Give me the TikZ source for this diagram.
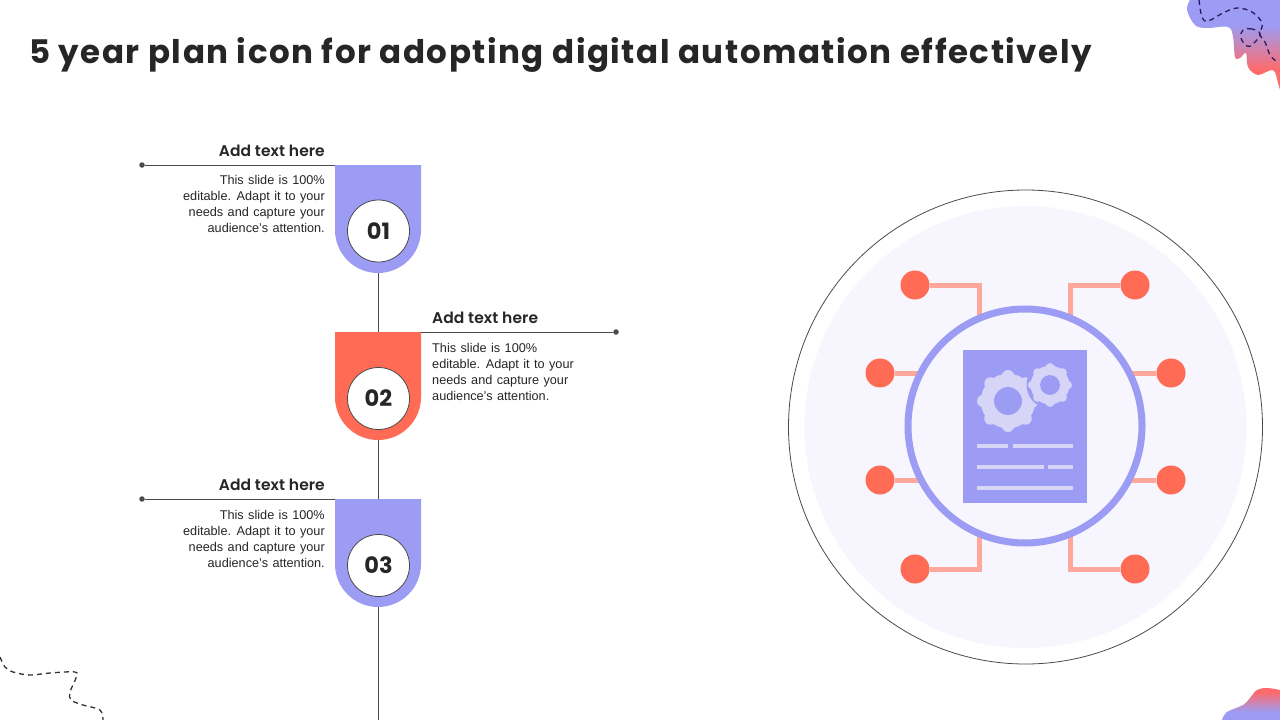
\documentclass[tikz,border=0pt]{standalone}
\usepackage{fontspec}
\setmainfont{Liberation Sans}[WordSpace=1.25]
\newfontfamily\headfont{Poppins}[LetterSpace=4.72]
\newfontfamily\subfont{Poppins}[BoldFont={Poppins SemiBold},LetterSpace=0.5]
\newfontfamily\numfont{Poppins}
\usetikzlibrary{calc}
\definecolor{bluev}{HTML}{9C9CF4}
\definecolor{redv}{HTML}{FF6B55}
\definecolor{blobr}{HTML}{FF6B6B}
\definecolor{linkc}{HTML}{FFA79B}
\definecolor{paleb}{HTML}{F7F6FE}
\definecolor{gearc}{HTML}{D6D5F8}
\definecolor{inkc}{HTML}{262626}
\definecolor{ruled}{HTML}{4A4A4A}
\definecolor{dashp}{HTML}{2A1A5E}
\tikzset{
 badge/.style={fill=#1,draw=none},
 numc/.style={circle,draw=ruled,line width=.8pt,fill=white,minimum size=62pt,inner sep=0pt,font=\numfont\bfseries\fontsize{22.5}{23}\selectfont,text=inkc},
 rule/.style={draw=ruled,line width=1pt},
 pin/.style={circle,fill=ruled,minimum size=5.5pt,inner sep=0pt},
 headt/.style={font=\subfont\fontsize{15.5}{16}\selectfont\bfseries,text=inkc,inner sep=0pt},
 bodyt/.style={font=\fontsize{12.7}{16}\selectfont,text=inkc,inner sep=0pt},
 reddot/.style={circle,fill=redv,minimum size=29pt,inner sep=0pt},
 linkl/.style={draw=linkc,line width=5pt},
 doodle/.style={line width=1.3pt,dash pattern=on 5pt off 4pt},
 docl/.style={draw=gearc,line width=4pt},
}
\newcommand{\gearshape}[3]{%
 \fill[gearc] (#1,#2) circle[radius=#3*0.88];
 \foreach \a in {0,45,...,315}{\fill[gearc] ($(#1,#2)+(\a:#3*0.8)$) circle[radius=#3*0.2];}
 \fill[bluev] (#1,#2) circle[radius=#3*0.45];
}
\begin{document}
\begin{tikzpicture}[x=1pt,y=-1pt]
\useasboundingbox (0,0) rectangle (1280,720);
\fill[white] (0,0) rectangle (1280,720);
% top-right blob
\begin{scope}
\clip plot[smooth,tension=.6] coordinates {(1190,0)(1187,10)(1195,25)(1207,28)(1228,27)(1233,37)(1235,57)(1240,58)(1246,53)(1248,67)(1258,75)(1273,70)(1278,83)(1280,90)} -- (1280,0) -- cycle;
\fill[bluev] (1180,-1) rectangle (1281,26);
\shade[top color=bluev,bottom color=blobr] (1180,25) rectangle (1281,70);
\fill[blobr] (1180,69.5) rectangle (1281,91);
\end{scope}
\draw[doodle,dashp] plot[smooth,tension=.6] coordinates {(1199,0)(1202,17)(1208,21)(1223,13)(1237,8)(1252,12)(1262,23)(1260,35)(1265,42)(1270,55)(1276,61)};
\draw[doodle,dashp] plot[smooth cycle,tension=.7] coordinates {(1260,34)(1252,29)(1243,30)(1241,38)(1247,46)(1253,44)};
% bottom-left doodle
\draw[doodle,black!80] plot[smooth,tension=.55] coordinates {(0,657)(5,667)(13,672)(30,675)(50,673)(75,672)(76,678)(70,692)(71,700)(83,705)(100,710)(103,720)};
% bottom-right blob
\begin{scope}
\clip plot[smooth,tension=.6] coordinates {(1222,720)(1227,712)(1243,705)(1250,698)(1257,690)(1267,688)(1280,690)} -- (1280,720) -- cycle;
\shade[top color=blobr,bottom color=bluev] (1215,692) rectangle (1281,712);
\fill[blobr] (1215,686) rectangle (1281,692.5);
\fill[bluev] (1215,711.5) rectangle (1281,721);
\end{scope}
% title
\node[anchor=base west,inner sep=0pt,font=\headfont\bfseries\fontsize{32.5}{32.5}\selectfont,text=inkc] (title) at (29,63) {5 year plan icon for adopting digital automation effectively};
% timeline
\coordinate (b1) at (378,273);\coordinate (t2) at (378,332);
\coordinate (b2) at (378,440);\coordinate (t3) at (378,499);
\coordinate (b3) at (378,607);\coordinate (e4) at (378,720);
\draw[rule] (b1) -- (t2) (b2) -- (t3) (b3) -- (e4);
\fill[badge=bluev] (335,165) -- (421,165) -- (421,230) arc[start angle=0,end angle=180,radius=43] -- cycle;
\fill[badge=redv] (335,332) -- (421,332) -- (421,397) arc[start angle=0,end angle=180,radius=43] -- cycle;
\fill[badge=bluev] (335,499) -- (421,499) -- (421,564) arc[start angle=0,end angle=180,radius=43] -- cycle;
\node[numc] (n1) at (378.5,231) {01};
\node[numc] (n2) at (378.5,398.5) {02};
\node[numc] (n3) at (378.5,565.5) {03};
\node[pin] (p1) at (142,165) {};
\node[pin] (p2) at (616,332) {};
\node[pin] (p3) at (142,499) {};
\coordinate (a1) at (335,165);\coordinate (a2) at (421,332);\coordinate (a3) at (335,499);
\draw[rule] (p1) -- (a1);\draw[rule] (p2) -- (a2);\draw[rule] (p3) -- (a3);
\node[headt,anchor=base east] (h1) at (325,156) {Add text here};
\node[headt,anchor=base west] (h2) at (432,323) {Add text here};
\node[headt,anchor=base east] (h3) at (325,490) {Add text here};
\node[bodyt,anchor=north east,align=right] (d1) at (325,175.5) {This slide is 100\%\\editable. Adapt it to your\\needs and capture your\\audience's attention.};
\node[bodyt,anchor=north west,align=left] (d2) at (432,343) {This slide is 100\%\\editable. Adapt it to your\\needs and capture your\\audience's attention.};
\node[bodyt,anchor=north east,align=right] (d3) at (325,510.5) {This slide is 100\%\\editable. Adapt it to your\\needs and capture your\\audience's attention.};
% icon
\draw[draw=ruled,line width=.8pt] (1025.5,427) circle[radius=237];
\fill[paleb] (1025.5,427) circle[radius=221];
\node[reddot] (r1) at (915,285) {};
\node[reddot] (r2) at (880,373) {};
\node[reddot] (r3) at (880,480) {};
\node[reddot] (r4) at (915,569) {};
\node[reddot] (r5) at (1135,285) {};
\node[reddot] (r6) at (1171,373) {};
\node[reddot] (r7) at (1171,480) {};
\node[reddot] (r8) at (1135,569) {};
\coordinate (c1) at (979.5,325);\coordinate (c4) at (979.5,530);
\coordinate (c5) at (1070.5,325);\coordinate (c8) at (1070.5,530);
\coordinate (c2) at (925,373);\coordinate (c3) at (925,480);
\coordinate (c6) at (1126,373);\coordinate (c7) at (1126,480);
\draw[linkl] (c1) |- (r1.east);
\draw[linkl] (c4) |- (r4.east);
\draw[linkl] (c5) |- (r5.west);
\draw[linkl] (c8) |- (r8.west);
\draw[linkl] (r2) -- (c2);
\draw[linkl] (r3) -- (c3);
\draw[linkl] (r6) -- (c6);
\draw[linkl] (r7) -- (c7);
\node[circle,draw=bluev,line width=7pt,fill=paleb,minimum size=234pt,inner sep=0pt] (ring) at (1025,426) {};
\node[fill=bluev,minimum width=124pt,minimum height=153pt,inner sep=0pt] (doc) at (1025,426.5) {};
\gearshape{1008}{401}{31}
\fill[bluev] (1050,385) circle[radius=23.5];
\gearshape{1050}{385}{22}
\draw[docl] (977,446) -- (1008,446) (1013,446) -- (1073,446);
\draw[docl] (977,467) -- (1044,467) (1048,467) -- (1073,467);
\draw[docl] (977,488) -- (1073,488);
\end{tikzpicture}
\end{document}
